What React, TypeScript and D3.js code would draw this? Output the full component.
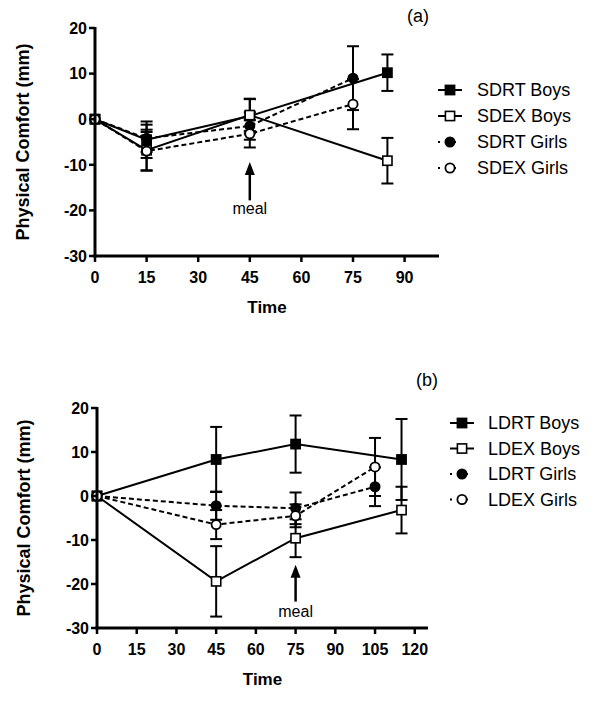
import * as d3 from "d3";

// ---- panel (a): short duration ----
const timesA = [0, 15, 45, 85];
const timesAGirls = [0, 15, 45, 75];
const sdrtBoys = [0, -4.5, 0.7, 10.2];
const sdrtBoysErr = [0, 4, 3.8, 4];
const sdexBoys = [0, -6.8, 0.9, -9.1];
const sdexBoysErr = [0, 4.5, 3.5, 5];
const sdrtGirls = [0, -4.2, -1.5, 9];
const sdrtGirlsErr = [0, 3, 3, 7];
const sdexGirls = [0, -7, -3.2, 3.3];
const sdexGirlsErr = [0, 4.2, 3, 5.5];
const labelsA = ["SDRT Boys", "SDEX Boys", "SDRT Girls", "SDEX Girls"];
const xTicksA = [0, 15, 30, 45, 60, 75, 90];

// ---- panel (b): long duration ----
const timesB = [0, 45, 75, 115];
const timesBGirls = [0, 45, 75, 105];
const ldrtBoys = [0, 8.3, 11.8, 8.3];
const ldrtBoysErr = [0, 7.4, 6.5, 9.2];
const ldexBoys = [0, -19.4, -9.6, -3.2];
const ldexBoysErr = [0, 8, 4.3, 5.3];
const ldrtGirls = [0, -2.2, -2.8, 2.1];
const ldrtGirlsErr = [0, 3.2, 3.6, 4.4];
const ldexGirls = [0, -6.5, -4.5, 6.6];
const ldexGirlsErr = [0, 3.3, 2.6, 6.6];
const labelsB = ["LDRT Boys", "LDEX Boys", "LDRT Girls", "LDEX Girls"];
const xTicksB = [0, 15, 30, 45, 60, 75, 90, 105, 120];

const yTicks = [-30, -20, -10, 0, 10, 20];
const FONT = "Liberation Sans, Arial, sans-serif";

type Series = {
  label: string;
  t: number[];
  v: number[];
  e: number[];
  filled: boolean;
  shape: "square" | "circle";
  dashed: boolean;
};

type PanelProps = {
  tag: string;
  tagX: number;
  tagY: number;
  series: Series[];
  xDomain: [number, number];
  xRange: [number, number];
  yRange: [number, number];
  xTicks: number[];
  meal: { at: number; tip: number; base: number; text: number };
  legendX: number;
  legendY: number;
  legendStep: number;
  legendTextX: number;
  yTitleX: number;
};

function Marker({ s, cx, cy }: { s: Series; cx: number; cy: number }) {
  const fill = s.filled ? "#000" : "#fff";
  if (s.shape === "square")
    return <rect x={cx - 4.6} y={cy - 4.6} width={9.2} height={9.2} fill={fill} stroke="#000" strokeWidth={1.6} />;
  return <circle cx={cx} cy={cy} r={4.6} fill={fill} stroke="#000" strokeWidth={1.8} />;
}

function Panel(p: PanelProps) {
  const x = d3.scaleLinear().domain(p.xDomain).range(p.xRange);
  const y = d3.scaleLinear().domain([-30, 20]).range(p.yRange);
  const line = d3
    .line<[number, number]>()
    .x((d) => x(d[0]))
    .y((d) => y(d[1]));
  const x0 = p.xRange[0];
  const yBase = p.yRange[0];
  const mx = x(p.meal.at);

  return (
    <g>
      <text x={p.tagX} y={p.tagY} fontFamily={FONT} fontSize={18} textAnchor="middle">
        {p.tag}
      </text>
      {/* lines */}
      {p.series.map((s) => (
        <path
          key={s.label + "l"}
          d={line(s.t.map((t, i) => [t, s.v[i]] as [number, number])) || ""}
          fill="none"
          stroke="#000"
          strokeWidth={2}
          strokeDasharray={s.dashed ? "5,3" : undefined}
        />
      ))}
      {/* error bars */}
      {p.series.map((s) =>
        s.t.map((t, i) =>
          s.e[i] > 0 ? (
            <g key={s.label + "e" + i} stroke="#000" strokeWidth={2}>
              <line x1={x(t)} x2={x(t)} y1={y(s.v[i] - s.e[i])} y2={y(s.v[i] + s.e[i])} />
              <line x1={x(t) - 6} x2={x(t) + 6} y1={y(s.v[i] + s.e[i])} y2={y(s.v[i] + s.e[i])} />
              <line x1={x(t) - 6} x2={x(t) + 6} y1={y(s.v[i] - s.e[i])} y2={y(s.v[i] - s.e[i])} />
            </g>
          ) : null
        )
      )}
      {/* markers */}
      {p.series.map((s) =>
        s.t.map((t, i) => <Marker key={s.label + "m" + i} s={s} cx={x(t)} cy={y(s.v[i])} />)
      )}
      {/* axes */}
      <line x1={x0} x2={x0} y1={y(20) - 1} y2={yBase + 1.5} stroke="#000" strokeWidth={3} />
      <line x1={x0 - 1.5} x2={p.xRange[1]} y1={yBase} y2={yBase} stroke="#000" strokeWidth={3} />
      {yTicks.map((v) => (
        <g key={"yt" + v}>
          <line x1={x0 - 6} x2={x0} y1={y(v)} y2={y(v)} stroke="#000" strokeWidth={2.5} />
          <text
            x={x0 - 8}
            y={y(v)}
            dy="0.36em"
            textAnchor="end"
            fontFamily={FONT}
            fontWeight="bold"
            fontSize={16}
          >
            {v}
          </text>
        </g>
      ))}
      {p.xTicks.map((v) => (
        <g key={"xt" + v}>
          <line x1={x(v)} x2={x(v)} y1={yBase} y2={yBase + 6} stroke="#000" strokeWidth={2.5} />
          <text
            x={x(v)}
            y={yBase + 27}
            textAnchor="middle"
            fontFamily={FONT}
            fontWeight="bold"
            fontSize={16}
          >
            {v}
          </text>
        </g>
      ))}
      <text
        x={(x0 + p.xRange[1]) / 2}
        y={yBase + 57}
        textAnchor="middle"
        fontFamily={FONT}
        fontWeight="bold"
        fontSize={17}
      >
        Time
      </text>
      <text
        transform={`translate(${p.yTitleX},${(y(20) + yBase) / 2}) rotate(-90)`}
        textAnchor="middle"
        fontFamily={FONT}
        fontWeight="bold"
        fontSize={18}
      >
        Physical Comfort (mm)
      </text>
      {/* meal arrow */}
      <g>
        <line x1={mx} x2={mx} y1={y(p.meal.tip) + 8} y2={y(p.meal.base)} stroke="#000" strokeWidth={2.5} />
        <path d={`M${mx},${y(p.meal.tip)} L${mx - 5},${y(p.meal.tip) + 13} L${mx + 5},${y(p.meal.tip) + 13} Z`} fill="#000" />
        <text x={mx} y={y(p.meal.text)} textAnchor="middle" fontFamily={FONT} fontSize={16}>
          meal
        </text>
      </g>
      {/* legend */}
      {p.series.map((s, i) => {
        const ly = p.legendY + i * p.legendStep;
        return (
          <g key={s.label + "lg"}>
            <line
              x1={p.legendX - 12}
              x2={p.legendX + 12}
              y1={ly}
              y2={ly}
              stroke="#000"
              strokeWidth={2}
              strokeDasharray={s.dashed ? "2,6" : undefined}
            />
            <Marker s={s} cx={p.legendX} cy={ly} />
            <text x={p.legendTextX} y={ly} dy="0.36em" fontFamily={FONT} fontSize={18}>
              {s.label}
            </text>
          </g>
        );
      })}
    </g>
  );
}

export default function App() {
  const seriesA: Series[] = [
    { label: labelsA[0], t: timesA, v: sdrtBoys, e: sdrtBoysErr, filled: true, shape: "square", dashed: false },
    { label: labelsA[1], t: timesA, v: sdexBoys, e: sdexBoysErr, filled: false, shape: "square", dashed: false },
    { label: labelsA[2], t: timesAGirls, v: sdrtGirls, e: sdrtGirlsErr, filled: true, shape: "circle", dashed: true },
    { label: labelsA[3], t: timesAGirls, v: sdexGirls, e: sdexGirlsErr, filled: false, shape: "circle", dashed: true },
  ];
  const seriesB: Series[] = [
    { label: labelsB[0], t: timesB, v: ldrtBoys, e: ldrtBoysErr, filled: true, shape: "square", dashed: false },
    { label: labelsB[1], t: timesB, v: ldexBoys, e: ldexBoysErr, filled: false, shape: "square", dashed: false },
    { label: labelsB[2], t: timesBGirls, v: ldrtGirls, e: ldrtGirlsErr, filled: true, shape: "circle", dashed: true },
    { label: labelsB[3], t: timesBGirls, v: ldexGirls, e: ldexGirlsErr, filled: false, shape: "circle", dashed: true },
  ];
  return (
    <svg
      width={600}
      height={705}
      style={{ position: "absolute", left: 0, top: 0, background: "#fff" }}
    >
      <Panel
        tag="(a)"
        tagX={418}
        tagY={22}
        series={seriesA}
        xDomain={[0, 100]}
        xRange={[95, 439]}
        yRange={[256, 28]}
        xTicks={xTicksA}
        meal={{ at: 45, tip: -9.4, base: -17.8, text: -20.8 }}
        legendX={450}
        legendY={90}
        legendStep={26}
        legendTextX={477}
        yTitleX={29}
      />
      <Panel
        tag="(b)"
        tagX={427}
        tagY={386}
        series={seriesB}
        xDomain={[0, 125]}
        xRange={[97, 428]}
        yRange={[628, 408]}
        xTicks={xTicksB}
        meal={{ at: 75, tip: -15.6, base: -24, text: -27.4 }}
        legendX={462}
        legendY={423}
        legendStep={25.5}
        legendTextX={488}
        yTitleX={30}
      />
    </svg>
  );
}
